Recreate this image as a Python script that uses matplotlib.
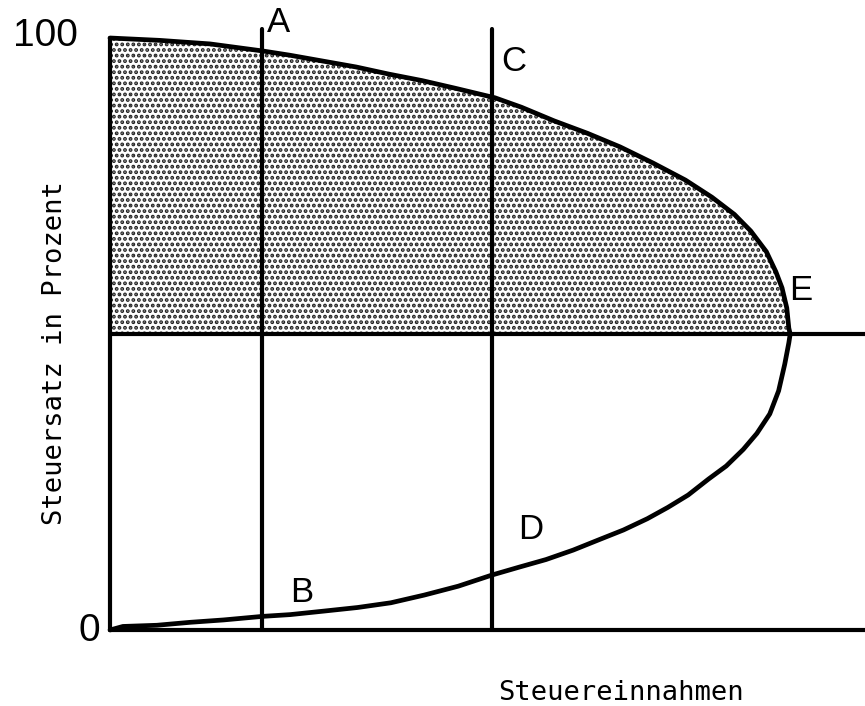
import matplotlib
matplotlib.use("Agg")
import matplotlib.pyplot as plt

plt.rcParams["hatch.linewidth"] = 1.9

# Laffer curve: (Steuereinnahmen, Steuersatz)
upper_rev = [0, 7.3, 14.7, 22.5, 26.4, 31.3, 36.2, 41.0, 45.9, 50.8, 56.6, 60.5,
             65.3, 70.2, 75.0, 79.8, 84.6, 88.5, 91.8, 94.2, 96.5, 97.9, 98.8,
             99.5, 99.8, 100.0]
upper_rate = [100, 99.6, 99.0, 97.8, 97.1, 96.1, 95.1, 93.9, 92.8, 91.5, 89.9, 88.3,
              86.0, 83.9, 81.6, 78.9, 76.0, 73.1, 70.2, 67.4, 63.9, 60.5, 57.8,
              54.4, 51.0, 50.0]
lower_rev = [100.0, 99.8, 99.2, 98.3, 97.0, 95.1, 93.1, 90.6, 88.0, 85.0, 82.0,
             79.0, 75.5, 72.0, 68.1, 64.1, 60.1, 56.2, 51.2, 46.2, 41.3, 36.4,
             31.5, 26.5, 22.4, 16.7, 11.8, 6.9, 1.9, 0]
lower_rate = [50.0, 48.5, 44.9, 40.4, 36.5, 33.2, 30.5, 27.7, 25.5, 22.8, 20.7,
              18.8, 16.9, 15.3, 13.5, 11.9, 10.6, 9.3, 7.4, 5.9, 4.6, 3.8,
              3.2, 2.6, 2.3, 1.7, 1.3, 0.8, 0.6, 0]

optimum_rate = 50.0
line_ab = 22.4
line_cd = 56.2

point_labels = ["A", "B", "C", "D", "E"]
point_pos = [(24.7, 102.7), (28.2, 6.3), (59.3, 96.0), (61.8, 16.9), (101.5, 57.4)]

y_ticks = [0, 100]
x_label = "Steuereinnahmen"
y_label = "Steuersatz in Prozent"

fig = plt.figure(figsize=(8.65, 7.06), dpi=100)
ax = fig.add_axes([110 / 865, 76 / 706, 755 / 865, 592 / 706])
ax.set_xlim(0, 111)
ax.set_ylim(0, 100)
ax.axis("off")

lw = 3.0
# shaded region between optimum line and the upper branch
ax.fill_betweenx(upper_rate, 0, upper_rev, facecolor="white",
                 hatch="...", edgecolor="#222222", linewidth=0, zorder=1)

style = dict(color="black", solid_capstyle="round", solid_joinstyle="round",
             zorder=3, clip_on=False)
# curve
ax.plot(upper_rev, upper_rate, lw=3.4, **style)
ax.plot(lower_rev, lower_rate, lw=3.4, **style)

# frame lines
ax.plot([0, 0], [0, 100], lw=lw, **style)
ax.plot([0, 111], [0, 0], lw=lw, **style)
ax.plot([0, 111], [optimum_rate, optimum_rate], lw=lw, **style)
ax.plot([line_ab, line_ab], [0, 101.5], lw=lw, **style)
ax.plot([line_cd, line_cd], [0, 101.5], lw=lw, **style)

for lab, (px, py) in zip(point_labels, point_pos):
    ax.text(px, py, lab, fontsize=25, family="Liberation Sans",
            ha="center", va="center", zorder=4)

ax.text(-4.7, 100.4, str(y_ticks[1]), fontsize=28, family="Liberation Sans",
        ha="right", va="center")
ax.text(-1.5, -0.2, str(y_ticks[0]), fontsize=28, family="Liberation Sans",
        ha="right", va="center")

fig.text(621 / 865, 1 - 693 / 706, x_label, fontsize=19.5, family="DejaVu Sans Mono",
         ha="center", va="center")
fig.text(55 / 865, 1 - 353 / 706, y_label, fontsize=19.5, family="DejaVu Sans Mono",
         ha="center", va="center", rotation=90)

fig.savefig("out.png", dpi=100, facecolor="white")
